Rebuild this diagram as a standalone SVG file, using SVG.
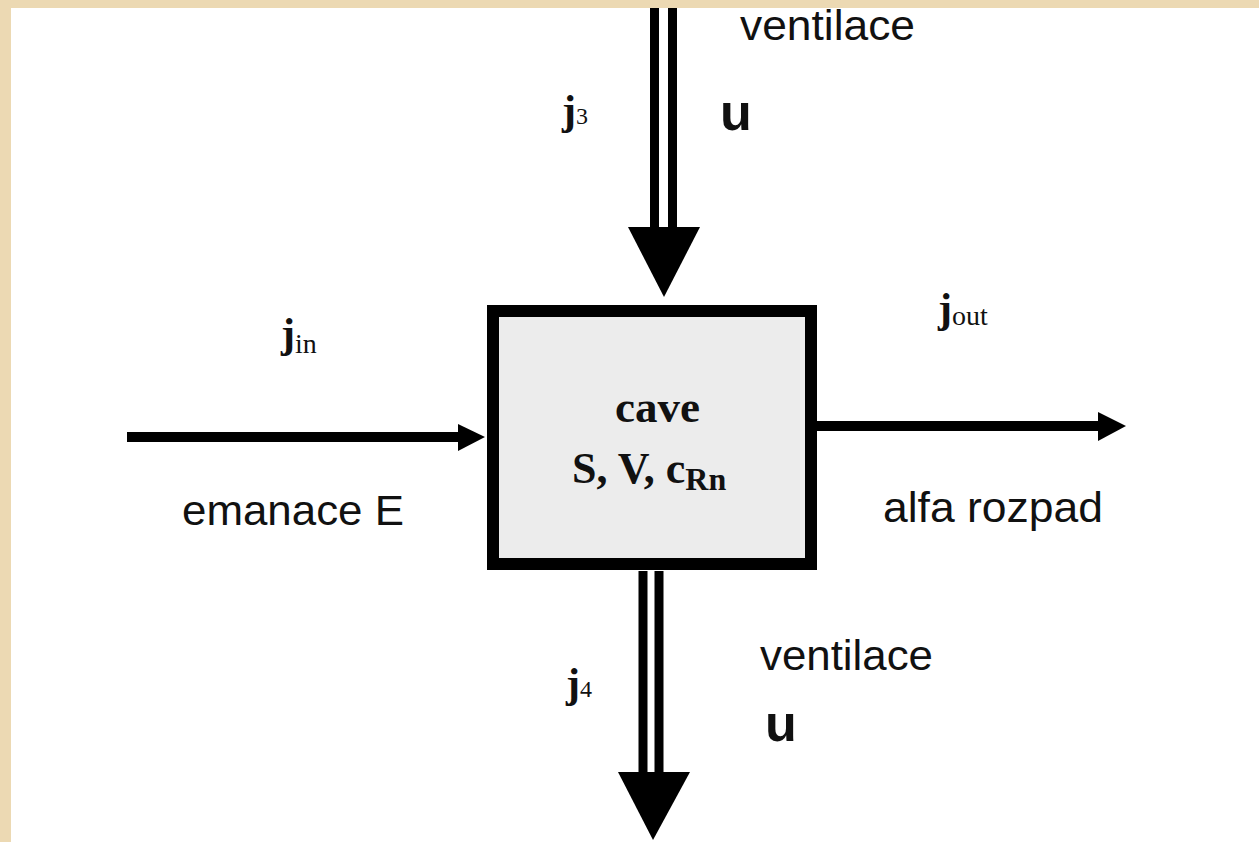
<svg xmlns="http://www.w3.org/2000/svg" width="1259" height="842" viewBox="0 0 1259 842">
  <style>
    .sans { font-family: "Liberation Sans", Arial, sans-serif; fill: #111; }
    .serif { font-family: "Liberation Serif", "Times New Roman", serif; fill: #111; }
    .lbl { font-size: 42px; }
    .u { font-size: 52px; font-weight: bold; }
    .jb { font-size: 42px; font-weight: bold; }
    .sub { font-size: 24px; }
    .subw { font-size: 28px; }
    .pipe { stroke: #000; stroke-width: 9; fill: none; }
    .flow { stroke: #000; stroke-width: 10; fill: none; }
    .head { fill: #000; }
  </style>

  <!-- page background with beige frame -->
  <rect x="0" y="0" width="1259" height="842" fill="#ecd9b3"/>
  <rect x="11" y="8" width="1248" height="834" fill="#ffffff"/>

  <!-- connectors -->
  <g id="connectors">
    <!-- ventilation inflow (double line) -->
    <g id="flow-j3">
      <line class="pipe" x1="654.5" y1="8" x2="654.5" y2="229"/>
      <line class="pipe" x1="672.5" y1="8" x2="672.5" y2="229"/>
      <polygon class="head" points="628,227 700,227 664,297"/>
    </g>
    <!-- ventilation outflow (double line) -->
    <g id="flow-j4">
      <line class="pipe" x1="643" y1="571" x2="643" y2="774"/>
      <line class="pipe" x1="659" y1="571" x2="659" y2="774"/>
      <polygon class="head" points="618,772 690,772 653,840"/>
    </g>
    <!-- emanation inflow -->
    <g id="flow-jin">
      <line class="flow" x1="127" y1="437" x2="462" y2="437"/>
      <polygon class="head" points="458,424 485,437 458,451"/>
    </g>
    <!-- alpha decay outflow -->
    <g id="flow-jout">
      <line class="flow" x1="817" y1="426" x2="1102" y2="426"/>
      <polygon class="head" points="1098,412 1126,426 1098,441"/>
    </g>
  </g>

  <!-- cave node -->
  <g id="cave">
    <rect x="493" y="311" width="318" height="253" fill="#ececec" stroke="#000" stroke-width="12"/>
    <text class="serif" x="615" y="422" font-size="44" font-weight="bold" textLength="85" lengthAdjust="spacingAndGlyphs">cave</text>
    <text class="serif" x="572" y="483" font-size="44" font-weight="bold">S, V, c<tspan font-size="32" dy="7">Rn</tspan></text>
  </g>

  <!-- labels -->
  <g id="label-top">
    <text class="sans lbl" x="740" y="40" textLength="175" lengthAdjust="spacingAndGlyphs">ventilace</text>
    <text class="sans u" x="720" y="130">u</text>
    <text class="serif jb" x="562" y="124">j<tspan class="sub" font-weight="normal">3</tspan></text>
  </g>

  <g id="label-bottom">
    <text class="sans lbl" x="760" y="670" textLength="173" lengthAdjust="spacingAndGlyphs">ventilace</text>
    <text class="sans u" x="765" y="741">u</text>
    <text class="serif jb" x="566" y="697">j<tspan class="sub" font-weight="normal">4</tspan></text>
  </g>

  <g id="label-left">
    <text class="serif jb" x="281" y="347">j<tspan class="subw" dy="6" font-weight="normal">in</tspan></text>
    <text class="sans lbl" x="182" y="525" textLength="222" lengthAdjust="spacingAndGlyphs">emanace E</text>
  </g>

  <g id="label-right">
    <text class="serif jb" x="938" y="322">j<tspan class="subw" dy="3" font-weight="normal">out</tspan></text>
    <text class="sans lbl" x="883" y="522" textLength="220" lengthAdjust="spacingAndGlyphs">alfa rozpad</text>
  </g>
</svg>
